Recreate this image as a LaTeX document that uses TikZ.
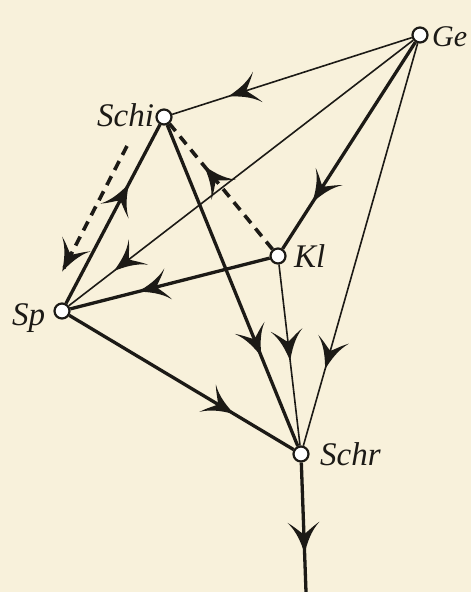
\documentclass[tikz,border=0pt]{standalone}
\usepackage{fontspec}
\setmainfont{Liberation Serif}
\usetikzlibrary{decorations.markings}
\definecolor{paper}{RGB}{248,241,219}
\definecolor{ink}{RGB}{28,26,22}
\pgfdeclarelayer{bg}
\pgfdeclarelayer{edges}
\pgfsetlayers{bg,edges,main}
\tikzset{
 vert/.style={circle,draw=ink,fill=white,line width=2.2pt,minimum size=15pt,inner sep=0pt},
 lab/.style={font=\fontsize{33}{33}\selectfont\itshape,text=ink,inner sep=0pt,anchor=base west},
 thickedge/.style={draw=ink,line width=3.3pt},
 thinedge/.style={draw=ink,line width=1.6pt},
 dashededge/.style={draw=ink,line width=3.6pt,dash pattern=on 10pt off 7pt},
 harp/.style={postaction={decorate,decoration={markings,mark=at position #1 with {\fill[ink] (4pt,0pt) .. controls (-6pt,3pt) and (-18pt,7pt) .. (-27pt,16pt) .. controls (-22pt,8pt) and (-17pt,3.5pt) .. (-15pt,0pt) .. controls (-17pt,-3.5pt) and (-22pt,-8pt) .. (-27pt,-16pt) .. controls (-18pt,-7pt) and (-6pt,-3pt) .. (4pt,0pt) -- cycle;}}}},
}
\begin{document}
\begin{tikzpicture}[x=1pt,y=-1pt]
\begin{pgfonlayer}{bg}
\fill[paper] (0,0) rectangle (471,592);
\end{pgfonlayer}
\useasboundingbox (0,0) rectangle (471,592);
\node[vert] (Ge) at (420,35) {};
\node[vert] (Schi) at (164,117) {};
\node[vert] (Kl) at (278,256) {};
\node[vert] (Sp) at (62,311) {};
\node[vert] (Schr) at (301,454) {};
\coordinate (Bot) at (306,592);
\coordinate (D1) at (127,146);
\coordinate (D2) at (64,268);
\node[lab,font=\fontsize{30}{30}\selectfont\itshape] (lGe) at (432,46) {Ge};
\node[lab] (lSchi) at (97,126) {Schi};
\node[lab] (lKl) at (294,267) {Kl};
\node[lab] (lSp) at (12,325) {Sp};
\node[lab] (lSchr) at (320,465) {Schr};
\begin{pgfonlayer}{edges}
\draw[thinedge,harp=0.75] (Ge) -- (Schi);
\draw[thinedge,harp=0.86] (Ge) -- (Sp);
\draw[thickedge,harp=0.76] (Ge) -- (Kl);
\draw[thinedge,harp=0.80] (Ge) -- (Schr);
\draw[thickedge,harp=0.65] (Sp) -- (Schi);
\draw[thickedge,harp=0.71] (Schi) -- (Schr);
\draw[dashededge,harp=0.64] (Kl) -- (Schi);
\draw[dashededge,harp=1] (D1) -- (D2);
\draw[thickedge,harp=0.64] (Kl) -- (Sp);
\draw[thinedge,harp=0.51] (Kl) -- (Schr);
\draw[thickedge,harp=0.72] (Sp) -- (Schr);
\draw[thickedge,harp=0.67] (Schr) -- (Bot);
\end{pgfonlayer}
\end{tikzpicture}
\end{document}
